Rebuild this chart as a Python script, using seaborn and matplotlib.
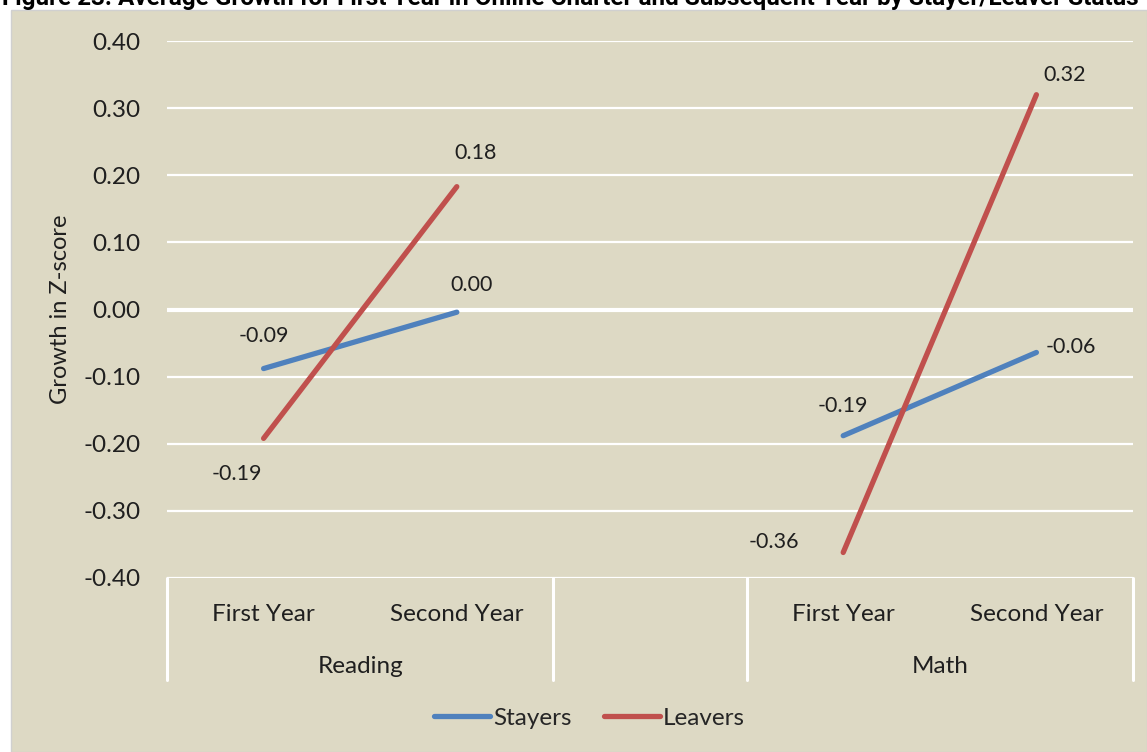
import numpy as np
import pandas as pd
import seaborn as sns
from matplotlib import pyplot as plt
from matplotlib.patches import Rectangle
import matplotlib.transforms as mtransforms

# data
subjects = ["Reading", "Reading", "Math", "Math"]
years = ["First Year", "Second Year", "First Year", "Second Year"]
slots = [0, 1, 3, 4]  # slot 2 is the empty gap between subjects
stayers = [-0.088, -0.004, -0.188, -0.064]
leavers = [-0.192, 0.183, -0.362, 0.320]
series_names = ["Stayers", "Leavers"]
title = "Figure 23. Average Growth for First Year in Online Charter and Subsequent Year by Stayer/Leaver Status"

rows = []
for name, vals in zip(series_names, [stayers, leavers]):
    for subj, yr, pos, v in zip(subjects, years, slots, vals):
        rows.append({"series": name, "subject": subj, "year": yr, "pos": pos, "value": v})
df = pd.DataFrame(rows)

beige = "#DDD9C4"
palette = {"Stayers": "#4F81BD", "Leavers": "#C0504D"}
sns.set_theme(style="white", rc={"axes.facecolor": beige, "figure.facecolor": "white"})
plt.rcParams["font.family"] = ["Lato", "DejaVu Sans"]
txt = "#1f1f1f"

fig = plt.figure(figsize=(11.47, 7.52), dpi=100)
bg = Rectangle((11 / 1147, 0), 1 - 11 / 1147, 1 - 10 / 752, transform=fig.transFigure,
               facecolor=beige, edgecolor="#D0D0D0", lw=1, zorder=-10)
fig.patches.append(bg)
ax = fig.add_axes([167 / 1147, 1 - 578 / 752, 966 / 1147, 537 / 752])
ax.set_facecolor(beige)

sns.lineplot(data=df, x="pos", y="value", hue="series", units="subject", estimator=None,
             palette=palette, lw=3.8, ax=ax, legend=True, zorder=3,
             solid_capstyle="round")

ax.set_xlim(-0.5, 4.5)
ax.set_ylim(-0.4, 0.4)
yt = np.arange(-0.4, 0.41, 0.1)
ax.set_yticks(yt)
ax.set_yticklabels([f"{v:.2f}".replace("-0.00", "0.00") for v in yt], fontsize=17.5, color=txt)
ax.tick_params(axis="y", length=0, pad=19)
for v in yt:
    ax.axhline(v, color="white", lw=3 if abs(v) < 1e-9 else 1.6, zorder=1)
for s in ax.spines.values():
    s.set_visible(False)

ax.set_xticks(slots)
ax.set_xticklabels(years, fontsize=17.5, color=txt)
ax.tick_params(axis="x", length=0, pad=19)
ax.set_xlabel("")
ax.set_ylabel("Growth in Z-score", fontsize=17, color=txt, labelpad=9)

# category dividers and subject labels below the axis
trans = mtransforms.blended_transform_factory(ax.transData, ax.transAxes)
for xd in [-0.5, 1.5, 2.5, 4.5]:
    ax.plot([xd, xd], [0, -0.19], color="white", lw=2.2, transform=trans, clip_on=False)
for subj in ["Reading", "Math"]:
    ax.text(np.mean(df.loc[df.subject == subj, "pos"].unique()), -0.165, subj, transform=trans,
            ha="center", va="center", fontsize=17.5, color=txt)

# data labels
offsets = {"Stayers": [(0, 33), (15, 27), (0, 30), (34, 5)],
           "Leavers": [(-27, -36), (19, 34), (-69, 10), (28, 20)]}
for name, vals in zip(series_names, [stayers, leavers]):
    for pos, v, off in zip(slots, vals, offsets[name]):
        ax.annotate(f"{v:.2f}".replace("-0.00", "0.00"), (pos, v), xytext=off,
                    textcoords="offset pixels", ha="center", va="center", fontsize=15.5, color=txt)

handles, labels = ax.get_legend_handles_labels()
ax.get_legend().remove()
fig.legend(handles, labels, loc="center", bbox_to_anchor=(0.514, 1 - 718 / 752), ncol=2,
           frameon=False, fontsize=17.5, handlelength=2.3, handletextpad=0.15, columnspacing=1.3)

fig.text(2 / 1147, 1 - 5 / 752, title, ha="left", va="baseline", fontsize=17.5,
         fontweight="bold", fontstretch="condensed", family=["Roboto", "DejaVu Sans"], color="black")

plt.savefig("out.png", dpi=100)
